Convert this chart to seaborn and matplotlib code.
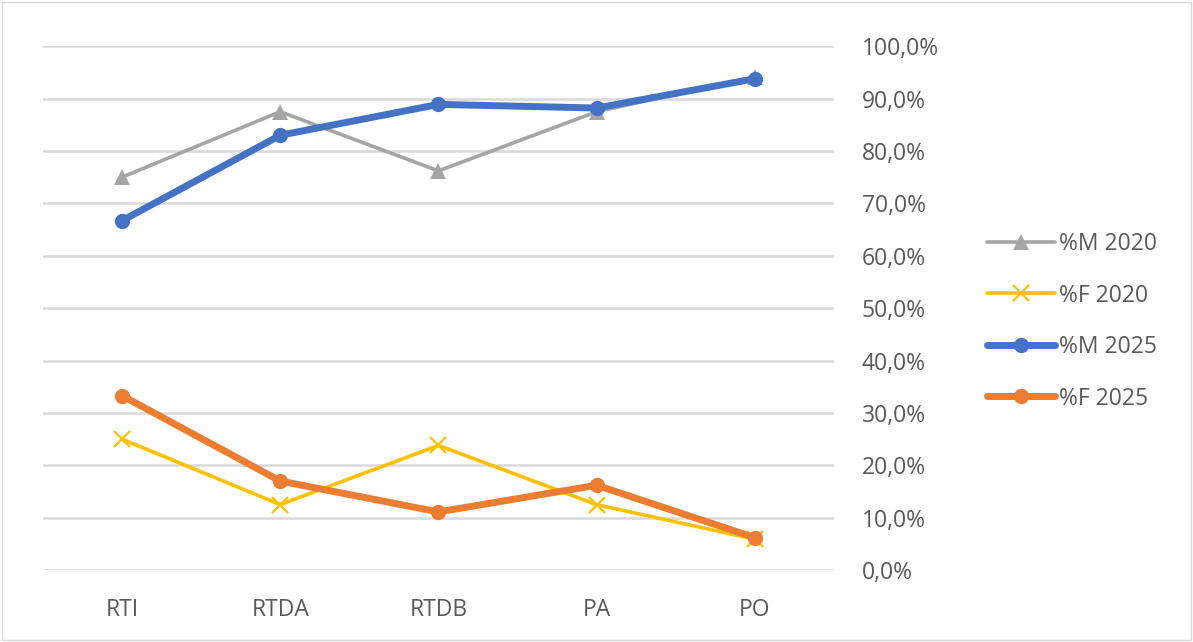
import numpy as np
import pandas as pd
import matplotlib
matplotlib.use("Agg")
import matplotlib.pyplot as plt
from matplotlib.ticker import FuncFormatter, MultipleLocator
from matplotlib.patches import Rectangle
import seaborn as sns

# Datos
categorias = ["RTI", "RTDA", "RTDB", "PA", "PO"]
m_2020 = [75.0, 87.5, 76.2, 87.5, 94.1]
f_2020 = [25.0, 12.5, 23.8, 12.5, 5.9]
m_2025 = [66.7, 83.0, 88.9, 88.2, 93.8]
f_2025 = [33.3, 17.0, 11.1, 16.2, 6.2]

series = {
    "%M 2020": m_2020,
    "%F 2020": f_2020,
    "%M 2025": m_2025,
    "%F 2025": f_2025,
}
estilos = {
    "%M 2020": dict(color="#A5A5A5", lw=2.6, marker="^", ms=11, mew=0),
    "%F 2020": dict(color="#FFC000", lw=2.6, marker="x", ms=12, mew=1.6),
    "%M 2025": dict(color="#4472C4", lw=5, marker="o", ms=11, mew=0),
    "%F 2025": dict(color="#ED7D31", lw=5, marker="o", ms=11, mew=0),
}

df = pd.DataFrame(
    [(s, c, v) for s, vals in series.items() for c, v in zip(categorias, vals)],
    columns=["Serie", "Categoria", "Valor"],
)

sns.set_style("white")
plt.rcParams["font.family"] = ["Open Sans", "DejaVu Sans"]

fig = plt.figure(figsize=(11.93, 6.42), dpi=100)
ax = fig.add_axes([0.036, 0.112, 0.663, 0.816])

for nombre in series:
    st = estilos[nombre]
    sub = df[df["Serie"] == nombre]
    sns.lineplot(
        data=sub, x="Categoria", y="Valor", ax=ax, label=nombre,
        color=st["color"], linewidth=st["lw"], marker=st["marker"],
        markersize=st["ms"], markeredgewidth=st["mew"],
        markeredgecolor=st["color"], sort=False,
    )

ax.set_xlim(-0.5, len(categorias) - 0.5)
ax.set_ylim(0, 100)
ax.yaxis.set_major_locator(MultipleLocator(10))
ax.yaxis.set_major_formatter(FuncFormatter(lambda v, p: f"{v:.1f}%".replace(".", ",")))
ax.yaxis.tick_right()
ax.grid(axis="y", color="#D9D9D9", lw=1.8)
ax.set_axisbelow(True)
for sp in ax.spines.values():
    sp.set_visible(False)
ax.tick_params(axis="y", length=0, pad=20, labelsize=16.5, labelcolor="#595959")
ax.tick_params(axis="x", length=0, pad=20, labelsize=16.5, labelcolor="#595959")
ax.set_xlabel("")
ax.set_ylabel("")

ax.legend(
    loc="center left", bbox_to_anchor=(1.193, 0.475), frameon=False,
    borderaxespad=0, borderpad=0,
    fontsize=16.5, labelcolor="#595959", handlelength=3.0, handletextpad=0.15,
    labelspacing=1.2,
)

fig.patches.append(Rectangle((0.002, 0.003), 0.996, 0.994, transform=fig.transFigure,
                             fill=False, edgecolor="#D9D9D9", lw=1))

fig.savefig("out.png", dpi=100)
